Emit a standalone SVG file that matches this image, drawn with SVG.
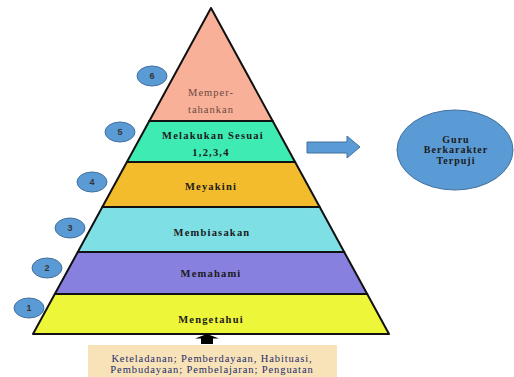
<svg xmlns="http://www.w3.org/2000/svg" width="514" height="377" viewBox="0 0 514 377">
<style>
.band{stroke:#111;stroke-width:2;stroke-linejoin:round}
.lbl{font-family:"Liberation Serif","Times New Roman",serif;font-size:10.5px;font-weight:bold;fill:#1a1a1a;text-anchor:middle;letter-spacing:1.2px}
.top{font-family:"Liberation Serif","Times New Roman",serif;font-size:10.5px;fill:#6b4a40;text-anchor:middle;letter-spacing:1px}
.num{fill:#5B9BD5;stroke:#41719C;stroke-width:1}
.numt{font-family:"Liberation Sans",Arial,sans-serif;font-size:9px;font-weight:bold;fill:#333;text-anchor:middle}
.gl{font-family:"Liberation Serif","Times New Roman",serif;font-size:10px;font-weight:bold;fill:#1a1a1a;text-anchor:middle;letter-spacing:1px}
.btxt{font-family:"Liberation Serif","Times New Roman",serif;font-size:10.5px;fill:#1F2A6B;text-anchor:middle;letter-spacing:0.9px}
</style>
<rect width="514" height="377" fill="#fff"/>
<g id="level6"><polygon class="band" points="211,8 272.7,121 149.3,121" fill="#F8B098"/>
<text class="top" x="211" y="96">Memper-</text>
<text class="top" x="211" y="113">tahankan</text></g>
<g id="level5"><polygon class="band" points="149.3,121 272.7,121 295.1,162 126.9,162" fill="#3EEBB3"/>
<text class="lbl" x="213" y="139">Melakukan Sesuai</text>
<text class="lbl" x="211" y="156">1,2,3,4</text></g>
<g id="level4"><polygon class="band" points="126.9,162 295.1,162 319.7,207 102.3,207" fill="#F3BC2C"/>
<text class="lbl" x="211" y="190">Meyakini</text></g>
<g id="level3"><polygon class="band" points="102.3,207 319.7,207 344.2,252 77.8,252" fill="#7EE0E5"/>
<text class="lbl" x="212" y="236">Membiasakan</text></g>
<g id="level2"><polygon class="band" points="77.8,252 344.2,252 367.2,294 54.8,294" fill="#8780DE"/>
<text class="lbl" x="211" y="277">Memahami</text></g>
<g id="level1"><polygon class="band" points="54.8,294 367.2,294 389,334 33,334" fill="#EEF63A"/>
<text class="lbl" x="211" y="323">Mengetahui</text></g>
<g id="badges">
<g id="b6"><ellipse class="num" cx="152" cy="76" rx="15" ry="10"/><text class="numt" x="152" y="79">6</text></g>
<g id="b5"><ellipse class="num" cx="120" cy="132" rx="15" ry="10"/><text class="numt" x="120" y="135">5</text></g>
<g id="b4"><ellipse class="num" cx="92" cy="182" rx="15" ry="10"/><text class="numt" x="92" y="185">4</text></g>
<g id="b3"><ellipse class="num" cx="70" cy="228" rx="15" ry="10"/><text class="numt" x="70" y="231">3</text></g>
<g id="b2"><ellipse class="num" cx="47" cy="268" rx="15" ry="10"/><text class="numt" x="47" y="271">2</text></g>
<g id="b1"><ellipse class="num" cx="29" cy="308" rx="15" ry="10"/><text class="numt" x="29" y="311">1</text></g>
</g>
<g id="connectors">
<polygon points="307,142 347,142 347,136 360,147 347,158 347,153 307,153" fill="#5B9BD5" stroke="#41719C" stroke-width="1"/>
<polygon points="207,334 219,338.5 213,338.5 213,344 201,344 201,338.5 195,338.5" fill="#000"/>
</g>
<g id="goal"><ellipse cx="455" cy="150" rx="58" ry="40" fill="#5B9BD5" stroke="#41719C" stroke-width="1"/>
<text class="gl" x="456" y="143">Guru</text>
<text class="gl" x="456" y="153">Berkarakter</text>
<text class="gl" x="456" y="164">Terpuji</text></g>
<g id="methods"><rect x="88" y="345" width="249" height="34" fill="#F8E3B8"/>
<text class="btxt" x="212" y="362">Keteladanan; Pemberdayaan, Habituasi,</text>
<text class="btxt" x="212" y="373">Pembudayaan; Pembelajaran; Penguatan</text></g>
</svg>
